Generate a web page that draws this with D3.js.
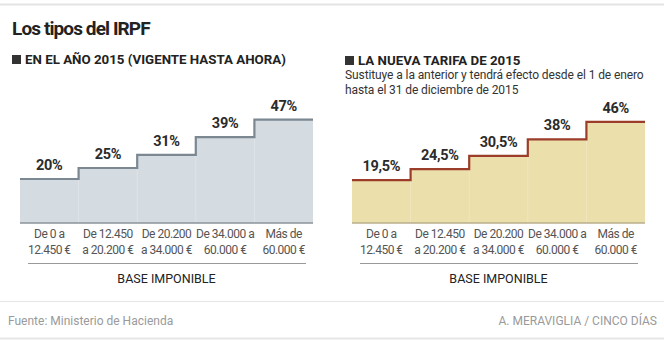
<!DOCTYPE html>
<html>
<head>
<meta charset="utf-8">
<script src="https://cdn.jsdelivr.net/npm/d3@7"></script>
<style>
  body { margin: 0; background: #fff; }
  svg text { font-family: "Roboto", sans-serif; }
</style>
</head>
<body>
<div id="chart"></div>
<script>
var width = 664,
    height = 360;

// datos
const tramos = ["De 0 a|12.450 €", "De 12.450|a 20.200 €", "De 20.200|a 34.000 €", "De 34.000 a|60.000 €", "Más de|60.000 €"];
const tipos2015 = [20, 25, 31, 39, 47];
const tiposNueva = [19.5, 24.5, 30.5, 38, 46];

const fmt = d => String(d).replace(".", ",") + "%";

var svg = d3.select("#chart")
    .append("svg")
    .attr("width", width)
    .attr("height", height);

// lineas separadoras
svg.append("line").attr("x1", 0).attr("x2", width).attr("y1", 4.5).attr("y2", 4.5)
    .attr("stroke", "#e4e4e4").attr("stroke-width", 2);
svg.append("line").attr("x1", 0).attr("x2", width).attr("y1", 301.5).attr("y2", 301.5)
    .attr("stroke", "#e6e6e6");
svg.append("line").attr("x1", 0).attr("x2", width).attr("y1", 338.5).attr("y2", 338.5)
    .attr("stroke", "#e6e6e6").attr("stroke-width", 2);

svg.append("text")
    .attr("x", 12).attr("y", 35)
    .attr("font-size", "19px")
    .attr("font-weight", "bold")
    .attr("letter-spacing", "-0.9px")
    .attr("fill", "#222")
    .text("Los tipos del IRPF");

// footer
svg.append("text")
    .attr("x", 8).attr("y", 325)
    .attr("font-size", "12px").attr("fill", "#9a9a9a")
    .text("Fuente: Ministerio de Hacienda");
svg.append("text")
    .attr("x", 657).attr("y", 325)
    .attr("text-anchor", "end")
    .attr("font-size", "12px").attr("fill", "#9a9a9a")
    .text("A. MERAVIGLIA / CINCO DÍAS");

var y = d3.scaleLinear()
    .domain([0, 47])
    .range([223, 223 - 47 * 2.2]);

function heading(x, yy, txt) {
    svg.append("rect")
        .attr("x", x).attr("y", yy - 9)
        .attr("width", 9).attr("height", 9)
        .attr("fill", "#333");
    svg.append("text")
        .attr("x", x + 13).attr("y", yy)
        .attr("font-size", "13.3px")
        .attr("font-weight", "bold")
        .attr("fill", "#222")
        .text(txt);
}

function panel(values, x0, x1, fill, stroke, base) {
    var g = svg.append("g");

    var x = d3.scaleBand()
        .domain(d3.range(tramos.length))
        .range([x0, x1]);

    // puntos del escalon, el ultimo cierra el tramo
    var pts = values.map((v, i) => [x(i), v]).concat([[x1, values[values.length - 1]]]);

    var area = d3.area()
        .curve(d3.curveStepAfter)
        .x(d => d[0])
        .y0(y(0))
        .y1(d => y(d[1]));

    var line = d3.line()
        .curve(d3.curveStepAfter)
        .x(d => d[0])
        .y(d => y(d[1]));

    g.append("path")
        .attr("d", area(pts))
        .attr("fill", fill);

    // divisiones suaves dentro del area
    g.selectAll(".div")
        .data(values.slice(1))
        .join("line")
        .attr("x1", (d, i) => x(i + 1)).attr("x2", (d, i) => x(i + 1))
        .attr("y1", d => y(d)).attr("y2", y(0))
        .attr("stroke", "#fff")
        .attr("stroke-opacity", 0.25);

    g.append("line")
        .attr("x1", x0).attr("x2", x1)
        .attr("y1", y(0)).attr("y2", y(0))
        .attr("stroke", base)
        .attr("stroke-width", 1.5);

    g.append("path")
        .attr("d", line(pts))
        .attr("fill", "none")
        .attr("stroke", stroke)
        .attr("stroke-width", 2.2);

    g.selectAll(".lbl")
        .data(values)
        .join("text")
        .attr("x", (d, i) => x(i) + x.bandwidth() / 2)
        .attr("y", d => y(d) - 9)
        .attr("text-anchor", "middle")
        .attr("font-size", "14.5px")
        .attr("font-weight", "bold")
        .attr("letter-spacing", "-0.3px")
        .attr("fill", "#2b2b2b")
        .text(fmt);

    // eje
    var ax = g.append("g")
        .attr("transform", "translate(0," + y(0) + ")")
        .call(d3.axisBottom(x).tickSize(0).tickPadding(0).tickFormat(i => tramos[i]));
    ax.select(".domain").remove();
    ax.selectAll(".tick text")
        .attr("font-size", "12px")
        .attr("font-family", null)
        .attr("letter-spacing", "-0.5px")
        .attr("fill", "#555")
        .each(function (i) {
            var t = d3.select(this).text("").attr("y", 0).attr("dy", null);
            tramos[i].split("|").forEach((s, k) => {
                t.append("tspan").attr("x", 0).attr("y", 15 + k * 16).text(s);
            });
        });

    g.append("line")
        .attr("x1", x0 + 8).attr("x2", x1 - 7)
        .attr("y1", 263.5).attr("y2", 263.5)
        .attr("stroke", "#999");

    g.append("text")
        .attr("x", (x0 + x1) / 2).attr("y", 283)
        .attr("text-anchor", "middle")
        .attr("font-size", "12.5px")
        .attr("fill", "#222")
        .text("BASE IMPONIBLE");
}

heading(12, 64, "EN EL AÑO 2015 (VIGENTE HASTA AHORA)");
heading(345, 65, "LA NUEVA TARIFA DE 2015");

svg.append("text")
    .attr("font-size", "12px")
    .attr("letter-spacing", "-0.1px")
    .attr("fill", "#333")
    .selectAll("tspan")
    .data(["Sustituye a la anterior y tendrá efecto desde el 1 de enero", "hasta el 31 de diciembre de 2015"])
    .join("tspan")
    .attr("x", 345)
    .attr("y", (d, i) => 79 + i * 15)
    .text(d => d);

panel(tipos2015, 20, 313, "#d4dbe1", "#7b8891", "#8d9399");
panel(tiposNueva, 352, 645, "#ebdfab", "#9c3d2b", "#b9ae8c");
</script>
</body>
</html>
